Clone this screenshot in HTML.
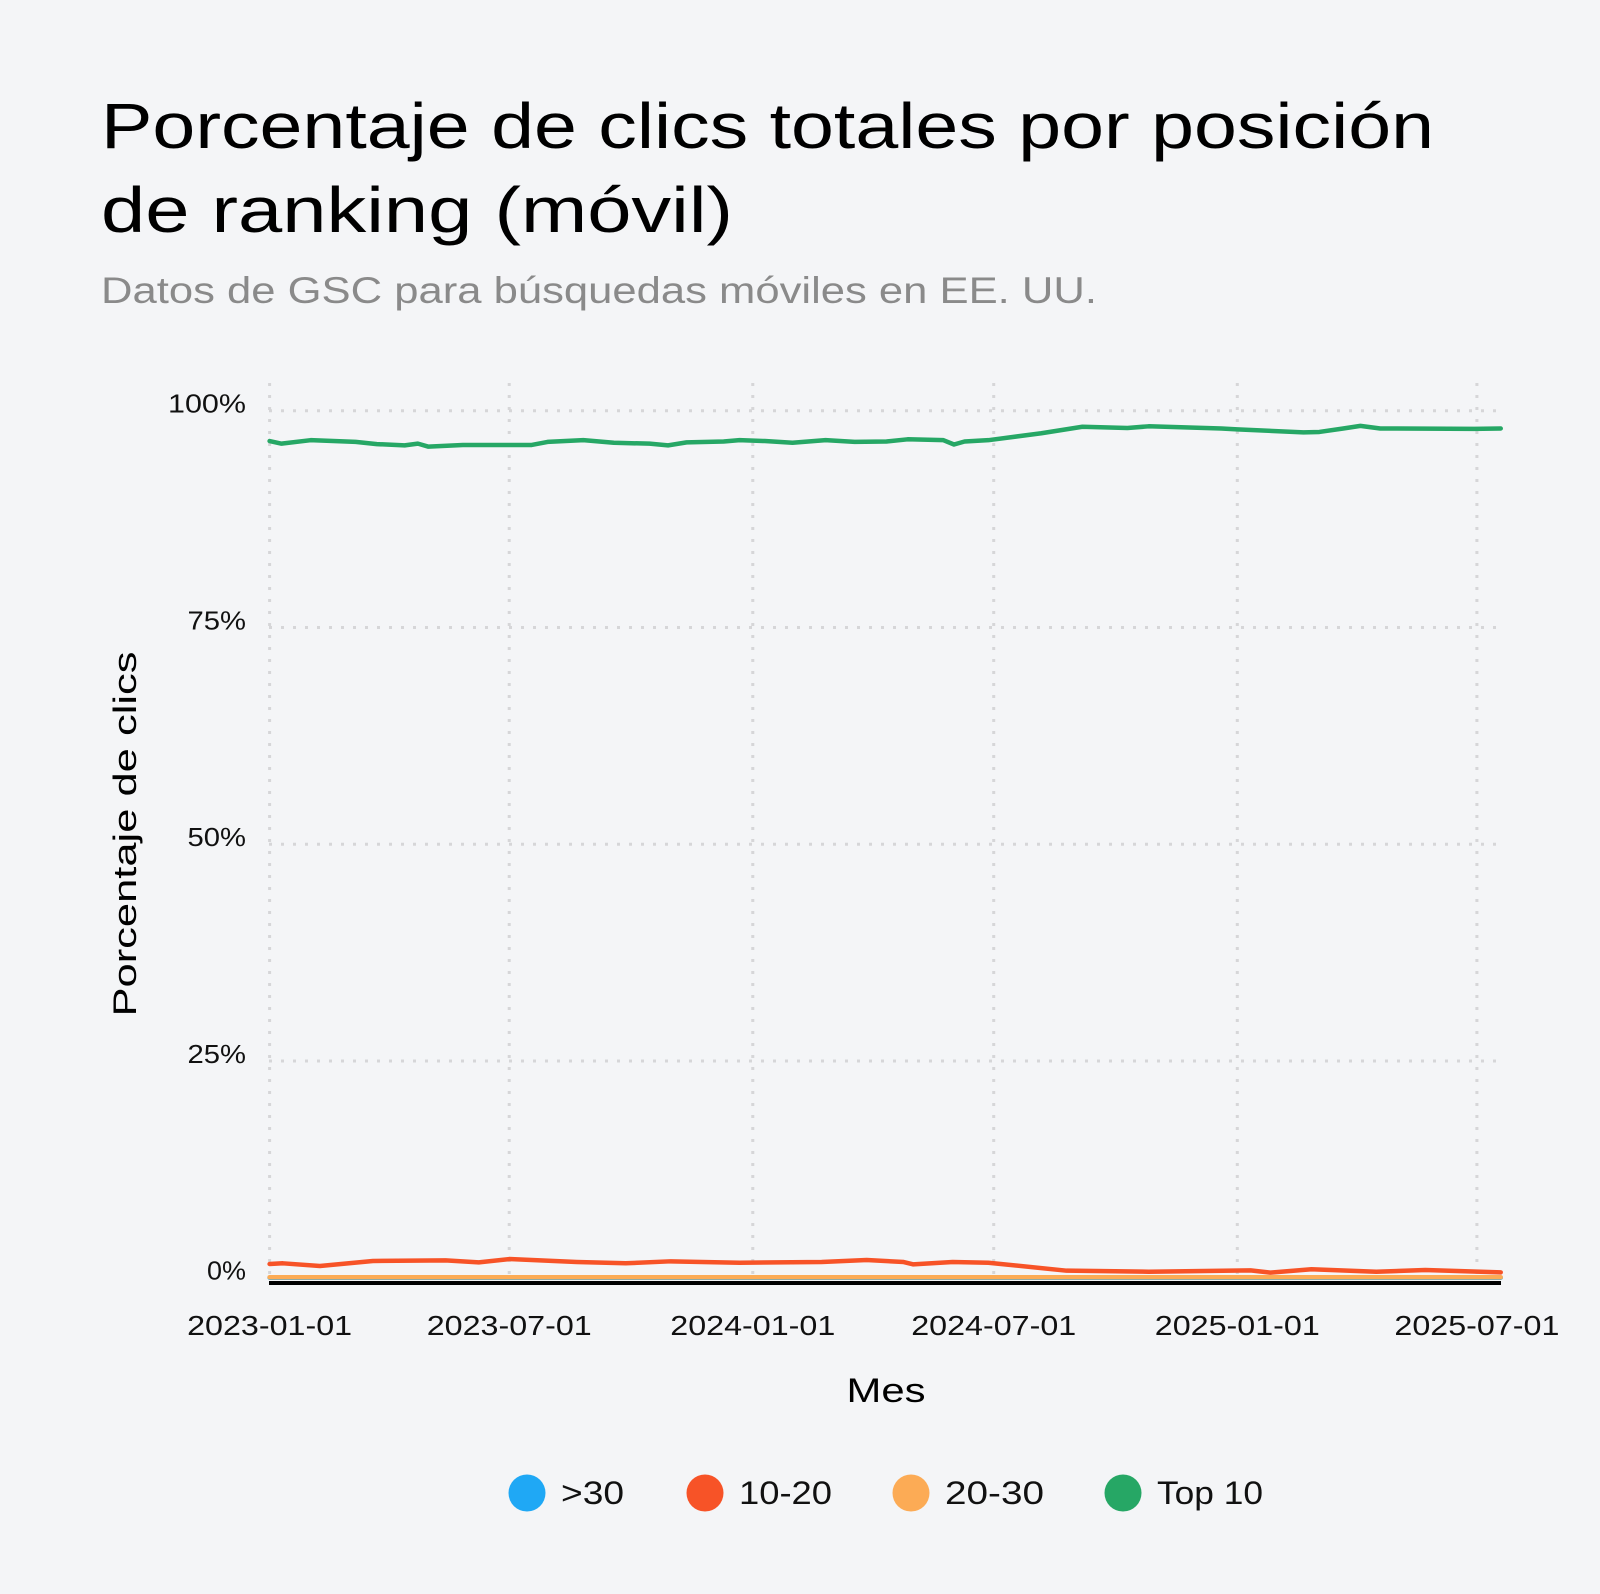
<!DOCTYPE html>
<html><head><meta charset="utf-8"><style>
html,body{margin:0;padding:0;background:#f4f5f7;}
svg{display:block;font-family:"Liberation Sans",sans-serif;}
</style></head><body>
<svg id="chart" width="1600" height="1594" viewBox="0 0 1600 1594">
<rect width="1600" height="1594" fill="#f4f5f7"/>
<text x="101" y="148" font-size="64" fill="#000" textLength="1333" lengthAdjust="spacingAndGlyphs">Porcentaje de clics totales por posición</text>
<text x="101" y="232" font-size="64" fill="#000" textLength="632" lengthAdjust="spacingAndGlyphs">de ranking (móvil)</text>
<text x="101" y="303" font-size="37" fill="#8a8a8a" textLength="996" lengthAdjust="spacingAndGlyphs">Datos de GSC para búsquedas móviles en EE. UU.</text>
<g id="grid"></g><g id="series"></g><g id="axes"></g>
<text transform="translate(136,834) rotate(-90)" text-anchor="middle" font-size="32" fill="#000" textLength="365" lengthAdjust="spacingAndGlyphs">Porcentaje de clics</text>
<text x="886" y="1402" text-anchor="middle" font-size="34" fill="#000" textLength="79" lengthAdjust="spacingAndGlyphs">Mes</text>
<g id="legend"></g>
</svg>
<script>
const yTicks=[0,25,50,75,100];
const xTickLabels=["2023-01-01","2023-07-01","2024-01-01","2024-07-01","2025-01-01","2025-07-01"];
const top10Days=[0,9,31,65,81,102,112,120,146,198,210,237,260,287,301,315,343,355,374,395,420,442,466,482,509,517,525,543,583,614,648,664,719,731,781,793,811,824,839,910,930];
const top10Values=[96.5,96.2,96.6,96.4,96.15,96.0,96.2,95.85,96.05,96.05,96.4,96.6,96.3,96.2,96.0,96.35,96.45,96.6,96.5,96.3,96.6,96.4,96.45,96.7,96.6,96.1,96.45,96.6,97.4,98.15,98.0,98.2,97.95,97.85,97.5,97.55,97.95,98.25,97.95,97.9,97.95];
const pos1020Days=[0,10,38,78,133,158,181,232,269,303,355,417,451,479,486,516,543,602,664,741,756,787,836,873,930];
const pos1020Values=[1.58,1.66,1.35,1.93,2.0,1.77,2.15,1.81,1.66,1.89,1.73,1.81,2.04,1.81,1.54,1.81,1.73,0.81,0.69,0.85,0.58,0.97,0.69,0.89,0.62];
const pos2030Days=[0,930];
const pos2030Values=[0.05,0.05];
const over30Days=[0,930];
const over30Values=[0.0,0.0];
const legendLabels=[">30","10-20","20-30","Top 10"];
const legendColors=["#1fa8f5","#f75327","#fcab55","#26a765"];

const NS="http://www.w3.org/2000/svg";
const X0=269.6,PXD=1.3238,Y0=1277.7,Y100=410.7;
const x=d=>X0+d*PXD;
const y=v=>Y0-(Y0-Y100)*v/100;
const tickDay=s=>(new Date(s+"T00:00:00Z")-new Date("2023-01-01T00:00:00Z"))/86400000;
function mk(t,a,p){const e=document.createElementNS(NS,t);for(const k in a)e.setAttribute(k,a[k]);p.appendChild(e);return e;}
const grid=document.getElementById('grid'),axes=document.getElementById('axes'),ser=document.getElementById('series'),leg=document.getElementById('legend');
yTicks.forEach(v=>{
  const l=mk('line',{x1:269,x2:1502,y1:y(v),y2:y(v),stroke:'#d6d6d8','stroke-width':3,'stroke-dasharray':'3,9'},grid);
  
  
  const s=v+"%";
  const t=mk('text',{x:246,y:y(v)+2,'text-anchor':'end','font-size':26,fill:'#111',textLength:(s.length*19.5),lengthAdjust:'spacingAndGlyphs'},axes);
  t.textContent=s;
  
  
});
xTickLabels.forEach(s=>{
  const xx=x(tickDay(s));
  const l=mk('line',{x1:xx,x2:xx,y1:383,y2:1282,stroke:'#d6d6d8','stroke-width':3,'stroke-dasharray':'3,9'},grid);
  
  
  const t=mk('text',{x:xx,y:1335,'text-anchor':'middle','font-size':28,fill:'#111',textLength:165,lengthAdjust:'spacingAndGlyphs'},axes);
  t.textContent=s;
  
  
});
function line(days,vals,color,name){
  const p=mk('polyline',{points:days.map((d,i)=>x(d)+','+y(vals[i])).join(' '),fill:'none',stroke:color,'stroke-width':4.5,'stroke-linejoin':'round','stroke-linecap':'round'},ser);
  
  
}
line(over30Days,over30Values,legendColors[0],'line-over-30');
line(pos2030Days,pos2030Values,legendColors[2],'line-20-30');
line(pos1020Days,pos1020Values,legendColors[1],'line-10-20');
line(top10Days,top10Values,legendColors[3],'line-top-10');
const ax=mk('line',{x1:269,x2:1501,y1:1283,y2:1283,stroke:'#000','stroke-width':4},axes);


const lx=[527,705,911,1123];
const lw=[63,93,99,106];
legendLabels.forEach((s,i)=>{
  const g=mk('g',{},leg);
  
  
  mk('circle',{cx:lx[i],cy:1493,r:18.5,fill:legendColors[i]},g);
  const t=mk('text',{x:lx[i]+34,y:1504,'font-size':32,fill:'#111',textLength:lw[i],lengthAdjust:'spacingAndGlyphs'},g);
  t.textContent=s;
});
</script>
</body></html>
